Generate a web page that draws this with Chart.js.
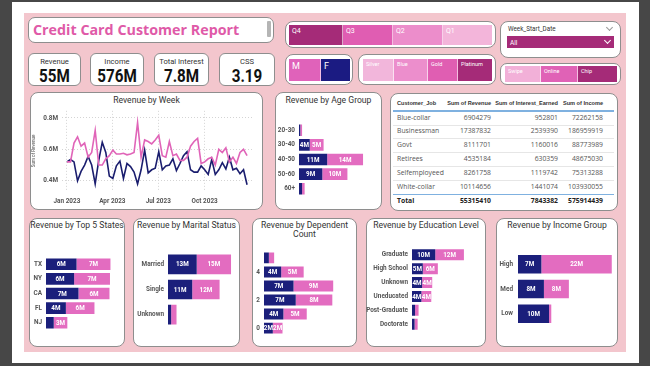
<!DOCTYPE html>
<html><head><meta charset="utf-8">
<script src="https://cdn.jsdelivr.net/npm/chart.js@4.4.1/dist/chart.umd.min.js"></script>
<style>
html,body{margin:0;padding:0;width:650px;height:366px;overflow:hidden;background:#474747;font-family:Roboto,"Liberation Sans",Arial,sans-serif;}
.a{position:absolute;box-sizing:border-box;}
.box{position:absolute;box-sizing:border-box;background:#fff;border:1px solid #8e8e8e;border-radius:8px;}
.ttl{position:absolute;text-align:center;font-family:Roboto,sans-serif;font-size:8.6px;line-height:9px;color:#333;white-space:nowrap;}
.tile{position:absolute;box-sizing:border-box;color:#fff;font-size:6px;padding:2px 3px;border-right:1px solid rgba(255,255,255,0.6);white-space:nowrap;}
.kl{position:absolute;left:0;right:0;text-align:center;font-family:Roboto;font-size:7.6px;color:#333;}
.kv{position:absolute;left:0;right:0;text-align:center;font-family:Roboto;font-weight:bold;font-size:19px;color:#111;transform:scaleX(0.8);}
.chev{position:absolute;width:4px;height:4px;border-right:1px solid #888;border-bottom:1px solid #888;transform:rotate(45deg);}
.tc{position:absolute;font-family:"Open Sans",sans-serif;font-size:6.8px;color:#555;white-space:nowrap;line-height:8px;}
.th{position:absolute;font-family:"Liberation Sans",sans-serif;font-weight:bold;font-size:5.6px;color:#333;white-space:nowrap;line-height:8px;}
canvas{position:absolute;}
</style></head>
<body>
<div id="root"></div>
<script>
// ---------------- DATA ----------------
const reportTitle = 'Credit Card Customer Report';
const kpiLabels = ['Revenue','Income','Total Interest','CSS'];
const kpiValues = ['55M','576M','7.8M','3.19'];
const quarters = ['Q4','Q3','Q2','Q1'];
const genders = ['M','F'];
const cardCats = ['Silver','Blue','Gold','Platinum'];
const useChip = ['Swipe','Online','Chip'];

const weekStarts = ['2023-01-01','2023-01-08','2023-01-15','2023-01-22','2023-01-29','2023-02-05','2023-02-12','2023-02-19','2023-02-26','2023-03-05','2023-03-12','2023-03-19','2023-03-26','2023-04-02','2023-04-09','2023-04-16','2023-04-23','2023-04-30','2023-05-07','2023-05-14','2023-05-21','2023-05-28','2023-06-04','2023-06-11','2023-06-18','2023-06-25','2023-07-02','2023-07-09','2023-07-16','2023-07-23','2023-07-30','2023-08-06','2023-08-13','2023-08-20','2023-08-27','2023-09-03','2023-09-10','2023-09-17','2023-09-24','2023-10-01','2023-10-08','2023-10-15','2023-10-22','2023-10-29','2023-11-05','2023-11-12','2023-11-19','2023-11-26','2023-12-03','2023-12-10','2023-12-17','2023-12-24'];
const weekRevenueM = [0.52,0.52,0.64,0.68,0.62,0.64,0.55,0.58,0.72,0.50,0.50,0.54,0.56,0.595,0.57,0.57,0.575,0.565,0.57,0.58,0.77,0.55,0.66,0.65,0.635,0.66,0.69,0.56,0.55,0.65,0.56,0.57,0.53,0.53,0.55,0.62,0.65,0.67,0.51,0.52,0.54,0.55,0.50,0.60,0.58,0.61,0.52,0.55,0.51,0.58,0.60,0.56];
const weekRevenueF = [0.52,0.535,0.52,0.40,0.46,0.50,0.555,0.50,0.38,0.53,0.645,0.58,0.43,0.415,0.495,0.525,0.415,0.51,0.49,0.455,0.38,0.47,0.595,0.45,0.47,0.48,0.585,0.47,0.495,0.50,0.54,0.465,0.51,0.56,0.585,0.47,0.455,0.455,0.495,0.47,0.44,0.535,0.44,0.47,0.515,0.475,0.55,0.47,0.48,0.445,0.47,0.375];
const weekTickDates = ['2023-01-01','2023-04-01','2023-07-01','2023-10-01'];
const weekTickLabels = ['Jan 2023','Apr 2023','Jul 2023','Oct 2023'];
const revenueTicks = [0.4,0.6,0.8];

const ageCats = ['20-30','30-40','40-50','50-60','60+'];
const ageF = [0.5,4.2,11.0,9.1,1.2];
const ageM = [0.7,5.4,14.0,9.8,1.0];

const stateCats = ['TX','NY','CA','FL','NJ'];
const stateF = [6.3,5.8,6.7,4.1,1.6];
const stateM = [7.0,7.4,6.4,5.9,2.8];

const maritalCats = ['Married','Single','Unknown'];
const maritalF = [12.8,10.8,1.4];
const maritalM = [15.3,12.2,2.4];

const depCats = ['5','4','3','2','1','0'];
const depF = [1.1,3.9,6.7,7.2,4.4,2.0];
const depM = [1.2,5.1,9.0,8.3,5.3,2.2];

const eduCats = ['Graduate','High School','Unknown','Uneducated','Post-Graduate','Doctorate'];
const eduF = [9.9,4.6,4.3,4.0,1.3,1.1];
const eduM = [12.2,6.4,4.3,4.2,1.5,1.3];

const incCats = ['High','Med','Low'];
const incF = [7.3,8.1,9.7];
const incM = [22.0,7.8,0.7];

const tableHeaders = ['Customer_Job','Sum of Revenue','Sum of Interest_Earned','Sum of Income'];
const jobs = ['Blue-collar','Businessman','Govt','Retirees','Selfemployeed','White-collar'];
const jobRevenue = [6904279,17387832,8111701,4535184,8261758,10114656];
const jobInterest = [952801,2539390,1160016,630359,1119742,1441074];
const jobIncome = [72262158,186959919,88773989,48675030,75313288,103930055];

// ---------------- STYLE ----------------
const NAVY = '#1b1f7b';
const PINK = '#e36cc0';
const LNAVY = '#1a1d6e';
const LPINK = '#e064b8';
const TICKFONT = 'Roboto';
const root = document.getElementById('root');

function el(cls, css, html){
  const d=document.createElement('div'); d.className=cls; d.style.cssText=css; if(html!==undefined) d.innerHTML=html; root.appendChild(d); return d;
}
function box(x,y,w,h,r){ return el('box',`left:${x}px;top:${y}px;width:${w}px;height:${h}px;`+(r?`border-radius:${r}px;`:'')); }

// background layers
el('a','left:12px;top:2px;width:627px;height:361px;background:#fff;');
el('a','left:24px;top:13px;width:602px;height:339px;background:#f3c6cd;');

// title
box(28,17,246,26,7);
el('a',`left:33px;top:20px;font-family:"Open Sans",sans-serif;font-weight:700;font-size:14.3px;color:#df5aa8;white-space:nowrap;`,reportTitle);
el('a','left:267px;top:21px;width:4px;height:16px;background:#b5b5b5;border-radius:1px;');

// KPI cards
const kpiX=[[28,53],[90,54],[154,55],[219,56]];
kpiLabels.forEach((l,i)=>{
  const b=box(kpiX[i][0],53,kpiX[i][1],33,6);
  const a=document.createElement('div');a.className='kl';a.style.top='3px';a.textContent=l;b.appendChild(a);
  const v=document.createElement('div');v.className='kv';v.style.top='10px';v.textContent=kpiValues[i];b.appendChild(v);
});

// slicers
function tiles(list, x0, widths, y, h, colors, fs){
  let x=x0;
  list.forEach((t,i)=>{
    el('tile',`left:${x}px;top:${y}px;width:${widths[i]}px;height:${h}px;background:${colors[i]};font-size:${fs}px;`+(i===list.length-1?'border-right:none;':''),t);
    x+=widths[i];
  });
}
box(285,21,211,27,8);
tiles(quarters,289,[54,50,50,49],25,20,['#a52b78','#e05db2','#ec8dcb','#f3b5da'],7);
box(285,54,68,31,8);
tiles(genders,289,[32,29],59,22,['#e062ba','#1b1b82'],9);
box(358,54,138,31,8);
tiles(cardCats,363,[31,34,30,34],59,22,['#f2b6db','#ec8ecc','#e05eb2','#a52b78'],5.5);
box(500,63,121,22,7);
tiles(useChip,505,[36,37,39],66,16,['#f2b0d8','#e062b6','#a52b78'],5.5);
box(500,21,121,37,8);
el('a','left:508px;top:25px;font-size:6.3px;color:#333;font-family:Roboto;','Week_Start_Date');
el('chev','left:607px;top:25px;border-color:#999;');
el('a','left:507px;top:36px;width:107px;height:12px;background:#a52b78;');
el('a','left:510px;top:39px;font-size:6.5px;color:#fff;','All');
el('chev','left:605px;top:38px;border-color:#fff;width:4px;height:4px;');

// chart boxes
box(30,92,233,118,8); el('ttl','left:30px;width:233px;top:96px;','Revenue by Week');
box(275,92,107,118,8); el('ttl','left:275px;width:107px;top:96px;','Revenue by Age Group');
box(390,93,228,118,8);
box(29,218,96,129,8); el('ttl','left:29px;width:96px;top:221px;','Revenue by Top 5 States');
box(133,218,107,129,8); el('ttl','left:133px;width:107px;top:221px;','Revenue by Marital Status');
box(252,218,105,129,8); el('ttl','left:252px;width:105px;top:221px;','Revenue by Dependent<br>Count');
box(366,218,120,129,8); el('ttl','left:366px;width:120px;top:221px;','Revenue by Education Level');
box(496,218,122,129,8); el('ttl','left:496px;width:122px;top:221px;','Revenue by Income Group');

// table
const colRight=[null,491,558,603];
el('th','left:397px;top:99px;',tableHeaders[0]);
for(let c=1;c<4;c++) el('th',`right:${650-colRight[c]}px;top:99px;`,tableHeaders[c]);
el('a','left:393px;top:110px;width:221px;height:1.5px;background:#7fb1e0;');
const rowY=[113.5,127.4,141.3,155.2,169.1,183];
jobs.forEach((j,i)=>{
  const y=rowY[i];
  el('tc',`left:397px;top:${y}px;`,j);
  el('tc',`right:${650-colRight[1]}px;top:${y}px;`,jobRevenue[i]);
  el('tc',`right:${650-colRight[2]}px;top:${y}px;`,jobInterest[i]);
  el('tc',`right:${650-colRight[3]}px;top:${y}px;`,jobIncome[i]);
  if(i<jobs.length-1) el('a',`left:393px;top:${y+11}px;width:221px;height:1px;background:#e6e6e6;`);
});
el('a','left:393px;top:194px;width:221px;height:1.3px;background:#7fb1e0;');
const sum=a=>a.reduce((p,c)=>p+c,0);
const tot=[sum(jobRevenue),sum(jobInterest),sum(jobIncome)];
el('tc','left:397px;top:197px;font-weight:bold;color:#222;','Total');
for(let c=1;c<4;c++) el('tc',`right:${650-colRight[c]}px;top:197px;font-weight:bold;color:#222;`,tot[c-1]);

// ---------------- CHARTS ----------------
function canvas(x,y,w,h){ const c=document.createElement('canvas'); c.width=w;c.height=h; c.style.left=x+'px'; c.style.top=y+'px'; c.style.width=w+'px'; c.style.height=h+'px'; root.appendChild(c); return c; }

const barLabels={id:'barLabels',afterDatasetsDraw(chart){
  const ctx=chart.ctx; ctx.save();
  ctx.font='bold 6.3px Roboto'; ctx.fillStyle='#fff'; ctx.textAlign='center'; ctx.textBaseline='middle';
  chart.data.datasets.forEach((ds,di)=>{
    chart.getDatasetMeta(di).data.forEach((e,i)=>{
      const w=Math.abs(e.x-e.base);
      if(w>=8.5) ctx.fillText(Math.round(ds.data[i])+'M',(e.x+e.base)/2,e.y+0.5);
    });
  });
  ctx.restore();
}};

function barChart(x,y,w,h,cats,f,m,o){
  new Chart(canvas(x,y,w,h),{type:'bar',
    data:{labels:cats,datasets:[{label:'F',data:f,backgroundColor:NAVY},{label:'M',data:m,backgroundColor:PINK}]},
    options:{indexAxis:'y',responsive:false,animation:false,devicePixelRatio:1,
      layout:{padding:0},
      plugins:{legend:{display:false},tooltip:{enabled:false}},
      datasets:{bar:{barPercentage:o.bp,categoryPercentage:1,borderWidth:0}},
      scales:{
        x:{stacked:true,display:false,min:0,max:o.max},
        y:{stacked:true,grid:{display:false,drawTicks:false},border:{display:false},
          ticks:{padding:o.pad||3,color:'#555',font:{family:TICKFONT,weight:'bold',size:o.fs||6.4},
            callback:o.cb||function(v){return this.getLabelForValue(v);}},
          afterFit(s){s.width=o.yw;}}
      }},plugins:[barLabels]});
}

barChart(275,115,107,89,ageCats,ageF,ageM,{bp:0.79,max:32.4,yw:24,pad:4});
barChart(29,249,96,89,stateCats,stateF,stateM,{bp:0.79,max:16.3,yw:17,pad:4});
barChart(133,244,107,91,maritalCats,maritalF,maritalM,{bp:0.78,max:32.1,yw:35,pad:4});
barChart(252,243,105,100,depCats,depF,depM,{bp:0.78,max:21.1,yw:12,pad:4,
  cb:function(v){const l=this.getLabelForValue(v);return Number(l)%2===0?l:'';}});
barChart(366,240,120,99,eduCats,eduF,eduM,{bp:0.79,max:31.5,yw:46,pad:4});
barChart(496,243,122,92,incCats,incF,incM,{bp:0.75,max:31.25,yw:22,pad:5});

// line chart
const day0=Date.UTC(2023,0,1);
const wk=s=>(Date.parse(s+'T00:00:00Z')-day0)/(7*86400000);
const wx=weekStarts.map(wk);
const tx=weekTickDates.map(wk);
new Chart(canvas(31,103,231,106),{type:'line',
  data:{datasets:[
    {label:'M',data:wx.map((x,i)=>({x,y:weekRevenueM[i]})),borderColor:LPINK,borderWidth:1.6,pointRadius:0,tension:0},
    {label:'F',data:wx.map((x,i)=>({x,y:weekRevenueF[i]})),borderColor:LNAVY,borderWidth:1.6,pointRadius:0,tension:0}]},
  options:{responsive:false,animation:false,devicePixelRatio:1,
    layout:{padding:{right:10,top:0,left:0,bottom:0}},
    plugins:{legend:{display:false},tooltip:{enabled:false}},
    scales:{
      x:{type:'linear',min:-1.4,max:52.4,
        grid:{color:'#d4d4d4',drawTicks:false},border:{display:false,dash:[1,2]},
        afterBuildTicks(s){s.ticks=tx.map(v=>({value:v}));},
        ticks:{autoSkip:false,maxRotation:0,padding:7,color:'#555',font:{family:TICKFONT,weight:'bold',size:6.4},
          callback(v){const i=tx.findIndex(t=>Math.abs(t-v)<1e-6);return i>=0?weekTickLabels[i]:'';}},
        afterFit(s){s.height=18;}},
      y:{min:0.335,max:0.845,
        grid:{color:'#d4d4d4',drawTicks:false},border:{display:false,dash:[1,2]},
        afterBuildTicks(s){s.ticks=revenueTicks.map(v=>({value:v}));},
        ticks:{padding:4,color:'#555',font:{family:TICKFONT,weight:'bold',size:6.4},callback:v=>v.toFixed(1)+'M'},
        title:{display:true,text:'Sum of Revenue',color:'#555',font:{size:4.5,family:TICKFONT},padding:0},
        afterFit(s){s.width=31;}}
    }}});
</script>
</body></html>
